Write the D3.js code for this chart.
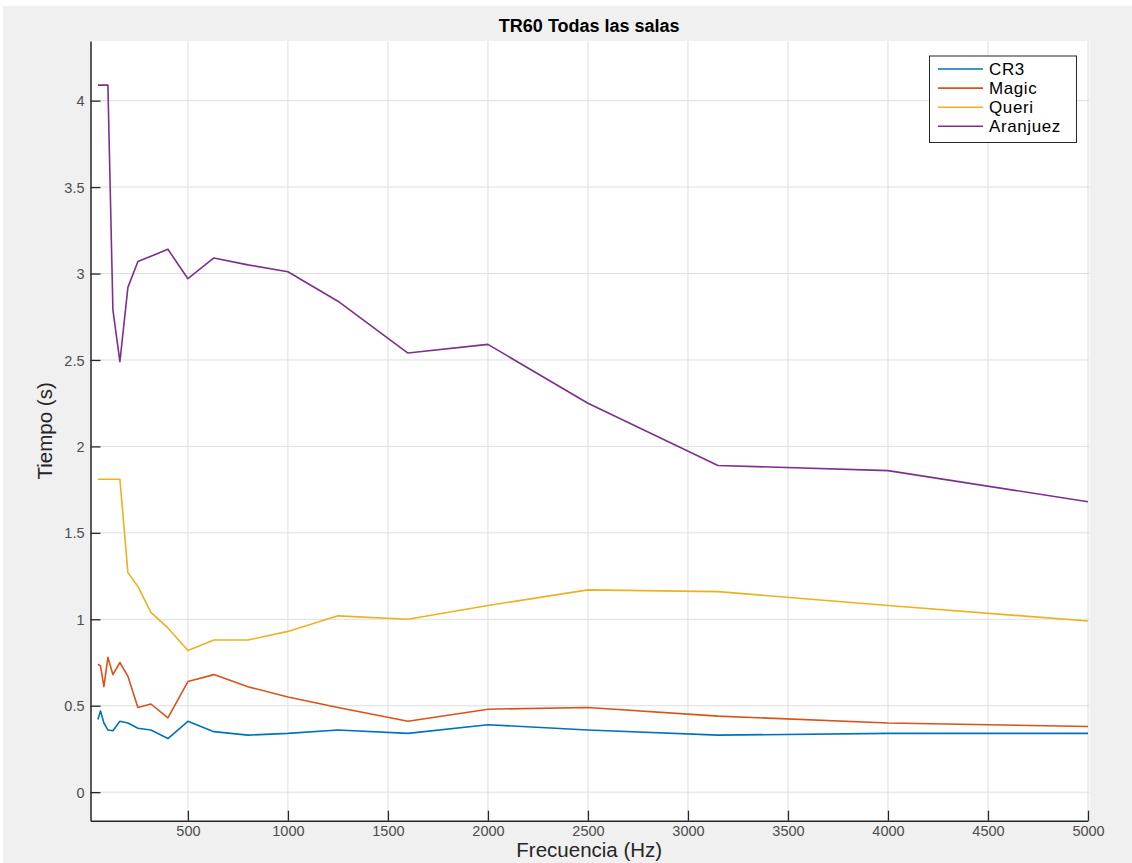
<!DOCTYPE html>
<html>
<head>
<meta charset="utf-8">
<script src="https://cdn.jsdelivr.net/npm/d3@7"></script>
<style>
  html, body { margin: 0; padding: 0; background: #fff; }
  svg { display: block; font-family: "Liberation Sans", Arial, Helvetica, sans-serif; }
</style>
</head>
<body>
<svg id="chart" width="1132" height="863"></svg>
<script>
const freqs = [50, 63, 80, 100, 125, 160, 200, 250, 315, 400, 500, 630, 800, 1000, 1250, 1600, 2000, 2500, 3150, 4000, 5000];
const cr3      = [0.42, 0.47, 0.40, 0.36, 0.355, 0.41, 0.40, 0.37, 0.36, 0.31, 0.41, 0.35, 0.33, 0.34, 0.36, 0.34, 0.39, 0.36, 0.33, 0.34, 0.34];
const magic    = [0.74, 0.73, 0.61, 0.78, 0.68, 0.75, 0.67, 0.49, 0.51, 0.43, 0.64, 0.68, 0.61, 0.55, 0.49, 0.41, 0.48, 0.49, 0.44, 0.40, 0.38];
const queri    = [1.81, 1.81, 1.81, 1.81, 1.81, 1.81, 1.27, 1.19, 1.04, 0.95, 0.82, 0.88, 0.88, 0.93, 1.02, 1.00, 1.08, 1.17, 1.16, 1.08, 0.99];
const aranjuez = [4.09, 4.09, 4.09, 4.09, 2.79, 2.49, 2.92, 3.07, 3.10, 3.14, 2.97, 3.09, 3.05, 3.01, 2.84, 2.54, 2.59, 2.25, 1.89, 1.86, 1.68];
const seriesNames = ["CR3", "Magic", "Queri", "Aranjuez"];
const seriesColors = ["#0072BD", "#D95319", "#EDB120", "#7E2F8E"];
const xTicks = [500, 1000, 1500, 2000, 2500, 3000, 3500, 4000, 4500, 5000];
const yTicks = [0, 0.5, 1, 1.5, 2, 2.5, 3, 3.5, 4];
const xDomain = [13, 5000];
const yDomain = [-0.165, 4.345];
const titleText = "TR60 Todas las salas";
const xLabel = "Frecuencia (Hz)";
const yLabel = "Tiempo (s)";

const series = [cr3, magic, queri, aranjuez];

const svg = d3.select("#chart");
const W = 1132, H = 863;
const plot = { left: 90.5, right: 1088, top: 41, bottom: 820.7 };

// figure background
svg.append("rect").attr("x", 0).attr("y", 0).attr("width", W).attr("height", H).attr("fill", "#ffffff");
svg.append("rect").attr("x", 3).attr("y", 6).attr("width", W - 3).attr("height", H - 6).attr("fill", "#f0f0f0");

const x = d3.scaleLinear().domain(xDomain).range([plot.left, plot.right]);
const y = d3.scaleLinear().domain(yDomain).range([plot.bottom, plot.top]);

// plot area
svg.append("rect")
  .attr("x", plot.left).attr("y", plot.top)
  .attr("width", plot.right - plot.left + 1.5).attr("height", plot.bottom - plot.top)
  .attr("fill", "#ffffff");

// grid
const grid = svg.append("g");
grid.selectAll(".gx").data(xTicks).enter().append("line")
  .attr("x1", d => x(d)).attr("x2", d => x(d))
  .attr("y1", plot.top).attr("y2", plot.bottom)
  .attr("stroke", "#dedede").attr("stroke-width", 1);
grid.selectAll(".gy").data(yTicks).enter().append("line")
  .attr("x1", plot.left).attr("x2", plot.right + 1.5)
  .attr("y1", d => y(d)).attr("y2", d => y(d))
  .attr("stroke", "#dedede").attr("stroke-width", 1);

// axes
const fmt = d => String(d);
const xAxis = d3.axisBottom(x).tickValues(xTicks).tickSizeInner(-10).tickSizeOuter(0).tickPadding(5).tickFormat(fmt);
const yAxis = d3.axisLeft(y).tickValues(yTicks).tickSizeInner(-10).tickSizeOuter(0).tickPadding(6).tickFormat(fmt);

const gx = svg.append("g").attr("transform", `translate(0,${plot.bottom})`).call(xAxis);
const gy = svg.append("g").attr("transform", `translate(${plot.left},0)`).call(yAxis);
[gx, gy].forEach(g => {
  g.select(".domain").attr("stroke", "#262626").attr("stroke-width", 1.5);
  g.selectAll(".tick line").attr("stroke", "#262626").attr("stroke-width", 1.3);
  g.selectAll(".tick text").attr("fill", "#4d4d4d").style("font-size", "14.5px")
    .style("font-family", "'Liberation Sans', Arial, sans-serif");
});
gy.selectAll(".tick text").attr("dy", "0.35em");

// lines
const line = d3.line().x((d, i) => x(freqs[i])).y(d => y(d));
svg.append("g").selectAll("path").data(series).enter().append("path")
  .attr("d", d => line(d))
  .attr("fill", "none")
  .attr("stroke", (d, i) => seriesColors[i])
  .attr("stroke-width", 1.6)
  .attr("stroke-linejoin", "round");

// title
svg.append("text").attr("x", (plot.left + plot.right) / 2).attr("y", 32)
  .attr("text-anchor", "middle").style("font-size", "18px").style("font-weight", "bold")
  .attr("fill", "#000").text(titleText);

// axis labels
svg.append("text").attr("x", (plot.left + plot.right) / 2).attr("y", 857)
  .attr("text-anchor", "middle").style("font-size", "20.5px").attr("fill", "#262626").text(xLabel);
svg.append("text").attr("transform", `translate(52,${(plot.top + plot.bottom) / 2}) rotate(-90)`)
  .attr("text-anchor", "middle").style("font-size", "20.5px").attr("fill", "#262626").text(yLabel);

// legend
const lg = svg.append("g");
lg.append("rect").attr("x", 929.5).attr("y", 56).attr("width", 147).attr("height", 86.5)
  .attr("fill", "#ffffff").attr("stroke", "#262626").attr("stroke-width", 1);
seriesNames.forEach((name, i) => {
  const yy = 69 + i * 19.1;
  lg.append("line").attr("x1", 938).attr("x2", 983).attr("y1", yy).attr("y2", yy)
    .attr("stroke", seriesColors[i]).attr("stroke-width", 1.6);
  lg.append("text").attr("x", 989).attr("y", yy).attr("dy", "0.36em")
    .style("font-size", "17px").style("letter-spacing", "0.6px").attr("fill", "#000").text(name);
});
</script>
</body>
</html>
